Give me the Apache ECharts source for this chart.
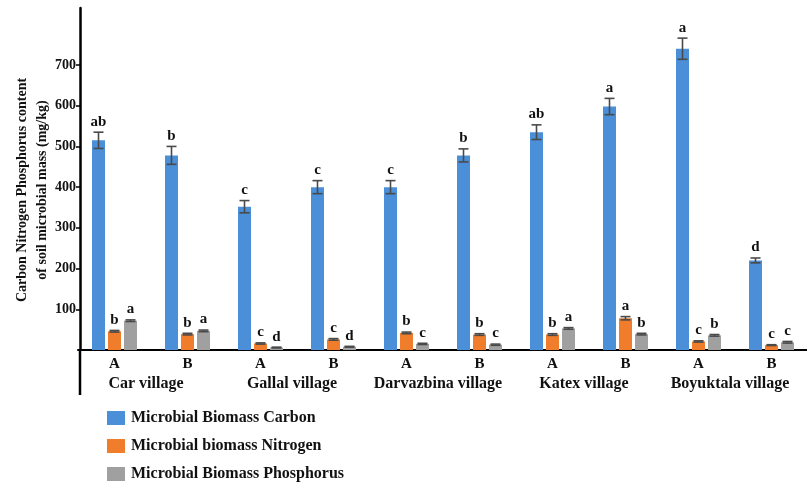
<!DOCTYPE html>
<html>
<head>
<meta charset="utf-8">
<title>Soil microbial biomass C, N, P</title>
<script src="https://cdn.jsdelivr.net/npm/echarts@6/dist/echarts.min.js"></script>
<style>
  html, body { margin: 0; padding: 0; background: #fff; }
  #chart { width: 807px; height: 484px; }
</style>
</head>
<body>
<div id="chart"></div>
<script>
// Sites (two plots per village) and the three biomass measures (mg/kg)
const plots = ['A', 'B', 'A', 'B', 'A', 'B', 'A', 'B', 'A', 'B'];
const villages = ['Car village', 'Gallal village', 'Darvazbina village', 'Katex village', 'Boyuktala village'];
const yTicks = [100, 200, 300, 400, 500, 600, 700];

const carbon     = [515, 478, 352, 400, 400, 478, 535, 598, 740, 220];
const carbonErr  = [20, 22, 15, 16, 16, 16, 18, 20, 26, 6];
const carbonSig  = ['ab', 'b', 'c', 'c', 'c', 'b', 'ab', 'a', 'a', 'd'];

const nitrogen    = [46, 39, 16, 26, 42, 38, 38, 78, 21, 12];
const nitrogenErr = [2, 2, 1.5, 2, 2, 2, 2, 4, 1.5, 1];
const nitrogenSig = ['b', 'b', 'c', 'c', 'b', 'b', 'b', 'a', 'c', 'c'];

const phosphorus    = [72, 47, 6, 8, 15, 13, 53, 39, 36, 19];
const phosphorusErr = [2, 2, 1, 1, 1.5, 1.5, 2, 2, 2, 2];
const phosphorusSig = ['a', 'a', 'd', 'd', 'c', 'c', 'a', 'b', 'b', 'c'];

const SERIF = '"Liberation Serif", "DejaVu Serif", serif';
const BAR_W = 13;
const BAR_STEP = 16; // bar width plus gap between neighbouring bars
const GRID = { left: 78, top: 8, width: 730, height: 342 };

const measures = [
  { name: 'Microbial Biomass Carbon',     color: '#4a8fd8', values: carbon,     err: carbonErr,     sig: carbonSig },
  { name: 'Microbial biomass Nitrogen',   color: '#f07d2c', values: nitrogen,   err: nitrogenErr,   sig: nitrogenSig },
  { name: 'Microbial Biomass Phosphorus', color: '#a0a0a0', values: phosphorus, err: phosphorusErr, sig: phosphorusSig }
];

const series = [];
measures.forEach(function (m) {
  series.push({
    name: m.name,
    type: 'bar',
    barWidth: BAR_W,
    barGap: (100 * (BAR_STEP - BAR_W) / BAR_W).toFixed(1) + '%',
    itemStyle: { color: m.color },
    data: m.values
  });
});

// Error bars with the significance letters above them
measures.forEach(function (m, k) {
  series.push({
    type: 'custom',
    name: m.name + ' error',
    silent: true,
    z: 5,
    data: m.values.map(function (v, i) { return [i, v, m.err[i]]; }),
    encode: { x: 0, y: 1 },
    renderItem: function (params, api) {
      const i = api.value(0), v = api.value(1), e = api.value(2);
      const x = api.coord([i, v])[0] + (k - 1) * BAR_STEP;
      const yTop = api.coord([i, v + e])[1];
      const yBot = api.coord([i, v - e])[1];
      const cap = 5;
      const stroke = { stroke: '#4a4a4a', lineWidth: 1.6 };
      return {
        type: 'group',
        children: [
          { type: 'line', shape: { x1: x, y1: yTop, x2: x, y2: yBot }, style: stroke },
          { type: 'line', shape: { x1: x - cap, y1: yTop, x2: x + cap, y2: yTop }, style: stroke },
          { type: 'line', shape: { x1: x - cap, y1: yBot, x2: x + cap, y2: yBot }, style: stroke },
          {
            type: 'text',
            style: {
              x: x, y: yTop - 3,
              text: m.sig[params.dataIndex],
              align: 'center', verticalAlign: 'bottom',
              font: 'bold 15px ' + SERIF,
              fill: '#111'
            }
          }
        ]
      };
    }
  });
});

const chart = echarts.init(document.getElementById('chart'), null, { renderer: 'canvas' });
chart.setOption({
  animation: false,
  backgroundColor: '#fff',
  grid: Object.assign({ outerBoundsMode: 'none', containLabel: false }, GRID),
  legend: {
    orient: 'vertical',
    left: 107, top: 410,
    padding: 0,
    itemWidth: 18, itemHeight: 14, itemGap: 12,
    icon: 'rect',
    data: measures.map(function (m) { return m.name; }),
    textStyle: { fontFamily: SERIF, fontWeight: 'bold', fontSize: 16, color: '#111', padding: [0, 0, 0, 1] }
  },
  xAxis: [
    {
      type: 'category',
      data: plots,
      axisLine: { lineStyle: { color: '#000', width: 2 } },
      axisTick: { inside: true, length: 4, lineStyle: { color: '#000', width: 1.5 } },
      axisLabel: { interval: 0, fontFamily: SERIF, fontWeight: 'bold', fontSize: 15, color: '#111', margin: 7 }
    },
    {
      type: 'category',
      data: villages,
      position: 'bottom',
      offset: 20,
      axisLine: { show: false },
      axisTick: { show: false },
      axisLabel: { interval: 0, hideOverlap: false, fontFamily: SERIF, fontWeight: 'bold', fontSize: 16, color: '#111', margin: 6, padding: [0, 10, 0, 0] }
    }
  ],
  yAxis: {
    type: 'value',
    min: 0, max: 840, interval: 100,
    offset: -2,
    name: 'Carbon Nitrogen Phosphorus content\nof soil microbial mass (mg/kg)',
    nameLocation: 'middle',
    nameRotate: 90,
    nameGap: 28,
    nameMoveOverlap: false,
    nameTextStyle: { fontFamily: SERIF, fontWeight: 'bold', fontSize: 14, color: '#111', lineHeight: 20, padding: [0, 22, 0, 0] },
    splitLine: { show: false },
    axisLine: { show: true, lineStyle: { color: '#000', width: 2.5 } },
    axisTick: { show: true, length: 4, customValues: yTicks, lineStyle: { color: '#000', width: 1.5 } },
    axisLabel: { customValues: yTicks, fontFamily: SERIF, fontWeight: 'bold', fontSize: 14, color: '#111', margin: 4 }
  },
  graphic: [
    // y axis line continues down past the category labels
    {
      type: 'line',
      shape: { x1: GRID.left + 2, y1: GRID.top + GRID.height, x2: GRID.left + 2, y2: GRID.top + GRID.height + 45 },
      style: { stroke: '#000', lineWidth: 2.5 }
    }
  ],
  series: series
});
</script>
</body>
</html>
